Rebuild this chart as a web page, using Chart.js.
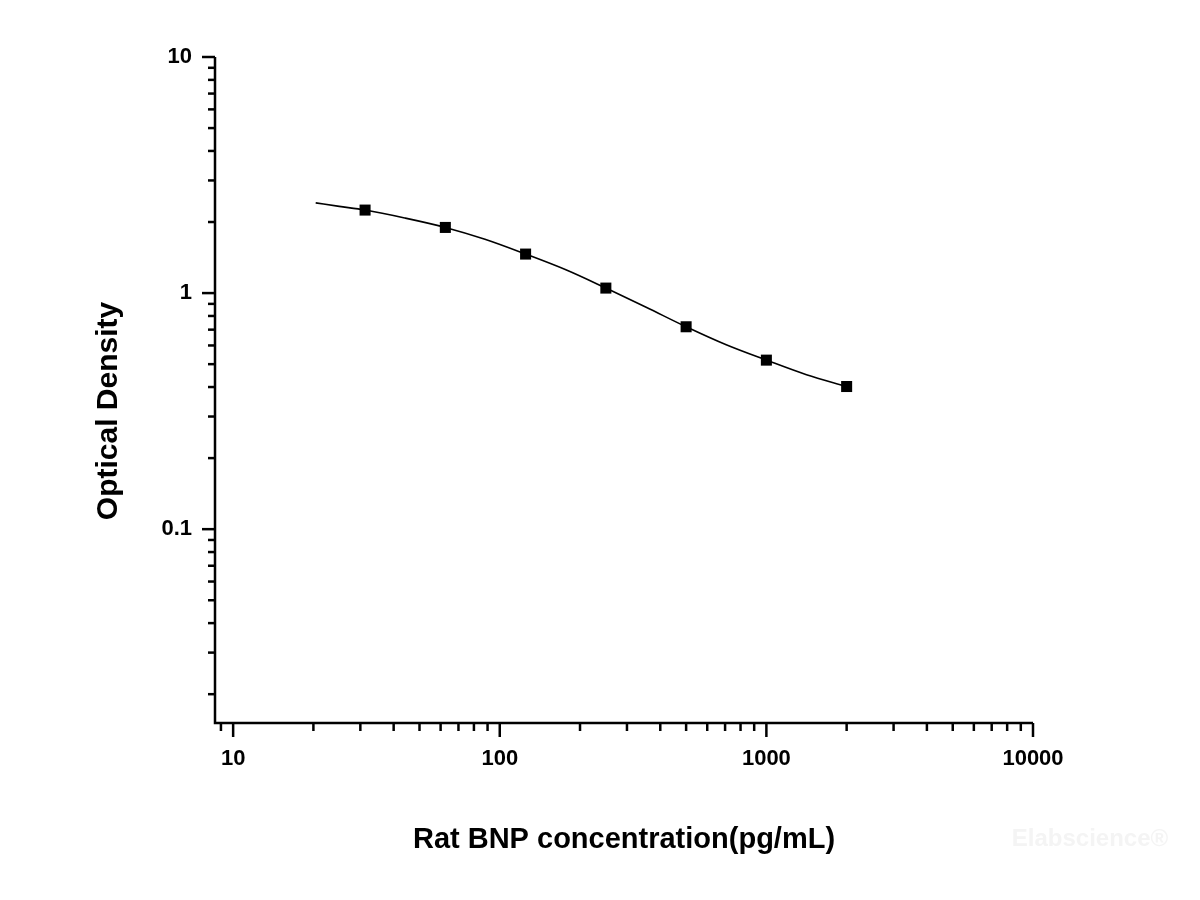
<!DOCTYPE html>
<html>
<head>
<meta charset="utf-8">
<script src="https://cdn.jsdelivr.net/npm/chart.js@4.4.1/dist/chart.umd.min.js"></script>
<style>
  html, body { margin: 0; padding: 0; background: #ffffff; }
  #box { width: 1200px; height: 900px; position: relative; }
</style>
</head>
<body>
<div id="box"><canvas id="grafico-curva"></canvas></div>
<script>
// standard points (pg/mL -> OD)
const concentracoes = [31.25, 62.5, 125, 250, 500, 1000, 2000];
const densidades = [2.247, 1.897, 1.463, 1.05, 0.72, 0.52, 0.402];

// fitted curve
const curvaX = [20.4, 25, 31.25, 44, 62.5, 88, 125, 177, 250, 354, 500, 707, 1000, 1414, 2000];
const curvaY = [2.41, 2.33, 2.247, 2.08, 1.897, 1.69, 1.463, 1.255, 1.05, 0.871, 0.72, 0.604, 0.52, 0.451, 0.402];

const xMin = 8.55, xMax = 10000;
const yMin = 0.0151, yMax = 10;
const labelsX = [10, 100, 1000, 10000];
const labelsY = [0.1, 1, 10];

const tituloX = 'Rat BNP concentration(pg/mL)';
const tituloY = 'Optical Density';
const marcaDagua = 'Elabscience\u00AE';

const fonte = '"Liberation Sans", Arial, sans-serif';

function ticksLog(min, max) {
  let lista = [];
  for (let e = -3; e <= 5; e++) {
    for (let m = 1; m <= 9; m++) {
      let v = m * Math.pow(10, e);
      v = parseFloat(v.toPrecision(6));
      if (v >= min - 1e-9 && v <= max + 1e-9) lista.push({ value: v });
    }
  }
  return lista;
}

function ehMaior(v) {
  let l = Math.log10(v);
  return Math.abs(l - Math.round(l)) < 1e-6;
}

const pluginEixos = {
  id: 'pluginEixos',
  afterDraw(chart) {
    const ctx = chart.ctx;
    const sx = chart.scales.x;
    const sy = chart.scales.y;
    const area = chart.chartArea;
    ctx.save();
    ctx.strokeStyle = '#000000';
    ctx.lineWidth = 2.5;
    // eixos
    ctx.beginPath();
    ctx.moveTo(area.left, area.top);
    ctx.lineTo(area.left, area.bottom);
    ctx.lineTo(area.right, area.bottom);
    ctx.stroke();
    // ticks x
    sx.ticks.forEach(t => {
      let px = sx.getPixelForValue(t.value);
      let len = ehMaior(t.value) ? 14 : 8;
      ctx.beginPath();
      ctx.moveTo(px, area.bottom);
      ctx.lineTo(px, area.bottom + len);
      ctx.stroke();
    });
    // ticks y
    sy.ticks.forEach(t => {
      let py = sy.getPixelForValue(t.value);
      let len = ehMaior(t.value) ? 13 : 7;
      ctx.beginPath();
      ctx.moveTo(area.left, py);
      ctx.lineTo(area.left - len, py);
      ctx.stroke();
    });
    // titulos
    ctx.fillStyle = '#000000';
    ctx.textAlign = 'center';
    ctx.textBaseline = 'middle';
    ctx.font = 'bold 29px ' + fonte;
    ctx.fillText(tituloX, (area.left + area.right) / 2, 840);
    ctx.save();
    ctx.translate(109, 411);
    ctx.rotate(-Math.PI / 2);
    ctx.font = 'bold 30px ' + fonte;
    ctx.fillText(tituloY, 0, 0);
    ctx.restore();
    // marca d'agua
    ctx.fillStyle = '#f4f4f4';
    ctx.font = 'bold 24px ' + fonte;
    ctx.fillText(marcaDagua, 1090, 839);
    ctx.restore();
  }
};

const ctx = document.getElementById('grafico-curva');

new Chart(ctx, {
  type: 'scatter',
  data: {
    datasets: [
      {
        type: 'line',
        label: 'curva',
        data: curvaX.map((x, i) => ({ x: x, y: curvaY[i] })),
        borderColor: '#000000',
        borderWidth: 1.6,
        pointRadius: 0,
        fill: false,
        cubicInterpolationMode: 'monotone'
      },
      {
        label: 'padroes',
        data: concentracoes.map((x, i) => ({ x: x, y: densidades[i] })),
        pointStyle: 'rect',
        pointRadius: 7.8,
        backgroundColor: '#000000',
        borderColor: '#000000',
        borderWidth: 0
      }
    ]
  },
  options: {
    responsive: true,
    maintainAspectRatio: false,
    animation: false,
    layout: { padding: { left: 0, right: 167, top: 57, bottom: 0 } },
    plugins: {
      legend: { display: false },
      tooltip: { enabled: false }
    },
    scales: {
      x: {
        type: 'logarithmic',
        min: xMin,
        max: xMax,
        afterBuildTicks: s => { s.ticks = ticksLog(xMin, xMax); },
        afterFit: s => { s.height = 900 - 57 - 666 ; },
        grid: { display: false, drawTicks: true, tickLength: 14 },
        border: { display: false },
        ticks: {
          autoSkip: false,
          maxRotation: 0,
          padding: 9,
          color: '#000000',
          font: { family: fonte, size: 22, weight: 'bold' },
          callback: v => labelsX.includes(v) ? String(v) : ''
        }
      },
      y: {
        type: 'logarithmic',
        min: yMin,
        max: yMax,
        afterBuildTicks: s => { s.ticks = ticksLog(yMin, yMax); },
        afterFit: s => { s.width = 215; },
        grid: { display: false, drawTicks: true, tickLength: 13 },
        border: { display: false },
        ticks: {
          autoSkip: false,
          padding: 10,
          color: '#000000',
          font: { family: fonte, size: 22, weight: 'bold' },
          callback: v => labelsY.includes(v) ? String(v) : ''
        }
      }
    }
  },
  plugins: [pluginEixos]
});
</script>
</body>
</html>
